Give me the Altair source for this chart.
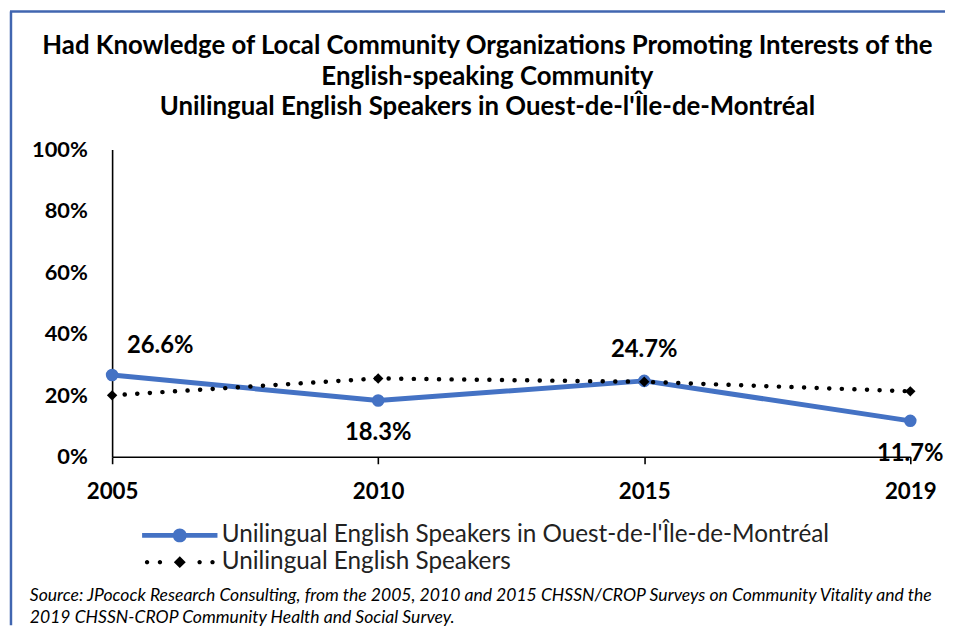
import altair as alt
import pandas as pd

years = ["2005", "2010", "2015", "2019"]
series_names = ["Unilingual English Speakers in Ouest-de-l'Île-de-Montréal", "Unilingual English Speakers"]
ouest_values = [26.6, 18.3, 24.7, 11.7]
all_values = [20.0, 25.5, 24.4, 21.3]
y_ticks = [0, 20, 40, 60, 80, 100]
title_lines = [
    "Had Knowledge of Local Community Organizations Promoting Interests of the",
    "English-speaking Community",
    "Unilingual English Speakers in Ouest-de-l'Île-de-Montréal",
]
source_lines = [
    "Source: JPocock Research Consulting, from the 2005, 2010  and 2015  CHSSN/CROP Surveys on Community Vitality and the",
    "2019  CHSSN-CROP Community Health and Social Survey.",
]

BLUE = "#4472C4"
FRAME = "#4166B0"
FONT = "Lato"

rows = []
for y, v in zip(years, ouest_values):
    rows.append({"year": y, "value": v, "series": series_names[0]})
for y, v in zip(years, all_values):
    rows.append({"year": y, "value": v, "series": series_names[1]})
df = pd.DataFrame(rows)

# legend symbols (custom paths, 1 unit = 1px with symbolSize=4)
blue_path = ("M-38,-2.5L-6,-2.5L-6,2.5L-38,2.5Z M6,-2.5L38,-2.5L38,2.5L6,2.5Z "
             "M-7,0A7,7 0 1,1 7,0A7,7 0 1,1 -7,0Z")
def dot(cx, r=2.2):
    return f"M{cx - r},0A{r},{r} 0 1,1 {cx + r},0A{r},{r} 0 1,1 {cx - r},0Z"
black_path = " ".join([dot(-33), dot(-20), "M0,-6L6,0L0,6L-6,0Z", dot(20), dot(33)])

x_enc = alt.X("year:O", scale=alt.Scale(domain=years, padding=0, type="point"),
              axis=alt.Axis(title=None, labelAngle=0, labelFont=FONT, labelFontWeight="bold",
                            labelFontSize=22.5, labelColor="black", domainColor="black",
                            domainWidth=1.6, tickColor="black", tickSize=7, tickWidth=1.6,
                            labelPadding=17, grid=False))
y_enc = alt.Y("value:Q", scale=alt.Scale(domain=[0, 100], nice=False),
              axis=alt.Axis(title=None, values=y_ticks, labelExpr="datum.value + '%'",
                            labelFont=FONT, labelFontWeight="bold", labelFontSize=22,
                            labelColor="black", domainColor="black", domainWidth=1.6,
                            ticks=False, labelPadding=25, grid=False))

base = alt.Chart(df)
blue_only = alt.datum.series == series_names[0]
black_only = alt.datum.series == series_names[1]
one_row = base.transform_filter(alt.datum.year == years[0]).transform_filter(blue_only)

blue_line = base.transform_filter(blue_only).mark_line(
    color=BLUE, strokeWidth=5, strokeJoin="round", strokeCap="round").encode(x=x_enc, y=y_enc)
blue_pts = base.transform_filter(blue_only).mark_point(
    filled=True, color=BLUE, size=160, opacity=1).encode(x=x_enc, y=y_enc)
black_line = base.transform_filter(black_only).mark_line(
    color="black", strokeWidth=4.5, strokeCap="round", strokeDash=[0.1, 12.6]).encode(x=x_enc, y=y_enc)
black_pts = base.transform_filter(black_only).mark_point(
    filled=True, color="black", shape="diamond", size=110, opacity=1).encode(x=x_enc, y=y_enc)

legend_layer = base.mark_point(filled=True, opacity=0, strokeWidth=0).encode(
    x=x_enc, y=y_enc,
    color=alt.Color("series:N", scale=alt.Scale(domain=series_names, range=[BLUE, "black"]),
                    legend=alt.Legend(title=None, orient="none", legendX=56, legendY=377,
                                      symbolSize=4, symbolOpacity=1, symbolStrokeWidth=0,
                                      labelFont=FONT, labelFontSize=24.5, labelColor="#222222",
                                      labelOffset=30, labelLimit=0, rowPadding=2,
                                      direction="vertical")),
    shape=alt.Shape("series:N", scale=alt.Scale(domain=series_names, range=[blue_path, black_path]),
                    legend=None),
)

label_base = base.transform_filter(blue_only).transform_calculate(
    lbl="format(datum.value, '.1f') + '%'")
lab_first = label_base.transform_filter(alt.datum.year == years[0]).mark_text(
    font=FONT, fontSize=24, fontWeight="bold", color="black", align="left", dx=15, dy=-29
).encode(x=x_enc, y=y_enc, text="lbl:N")
lab_above = label_base.transform_filter(alt.datum.year == years[2]).mark_text(
    font=FONT, fontSize=24, fontWeight="bold", color="black", align="center", dy=-31
).encode(x=x_enc, y=y_enc, text="lbl:N")
lab_below = label_base.transform_filter(
    (alt.datum.year == years[1]) | (alt.datum.year == years[3])).mark_text(
    font=FONT, fontSize=24, fontWeight="bold", color="black", align="center", dy=33
).encode(x=x_enc, y=y_enc, text="lbl:N")

source = one_row.mark_text(
    font=FONT, fontSize=17.7, fontStyle="italic", color="black", align="left", baseline="middle",
    lineHeight=22.5
).encode(x=alt.value(-83), y=alt.value(450), text=alt.value(source_lines))

# frame lines of the chart box (top and left edges, as in the reference)
frame_left = one_row.mark_rule(color=FRAME, strokeWidth=2.5).encode(
    x=alt.value(-102), y=alt.value(-139), y2=alt.value(480))
frame_top = one_row.mark_rule(color=FRAME, strokeWidth=2.5).encode(
    y=alt.value(-139), x=alt.value(-103), x2=alt.value(840))

chart = alt.layer(
    frame_left, frame_top,
    blue_line, black_line, blue_pts, black_pts, legend_layer,
    lab_first, lab_above, lab_below, source
).properties(
    width=805, height=310, background="white",
    autosize=alt.AutoSizeParams(type="none"),
    padding={"top": 140, "left": 105, "right": 35, "bottom": 168},
    title=alt.TitleParams(text=title_lines, font=FONT, fontSize=26, fontWeight="bold",
                          color="black", anchor="middle", frame="group", dx=-24,
                          lineHeight=31, offset=-111),
).configure_view(stroke=None)

chart.save("out.html", embed_options={"renderer": "svg", "actions": False})
